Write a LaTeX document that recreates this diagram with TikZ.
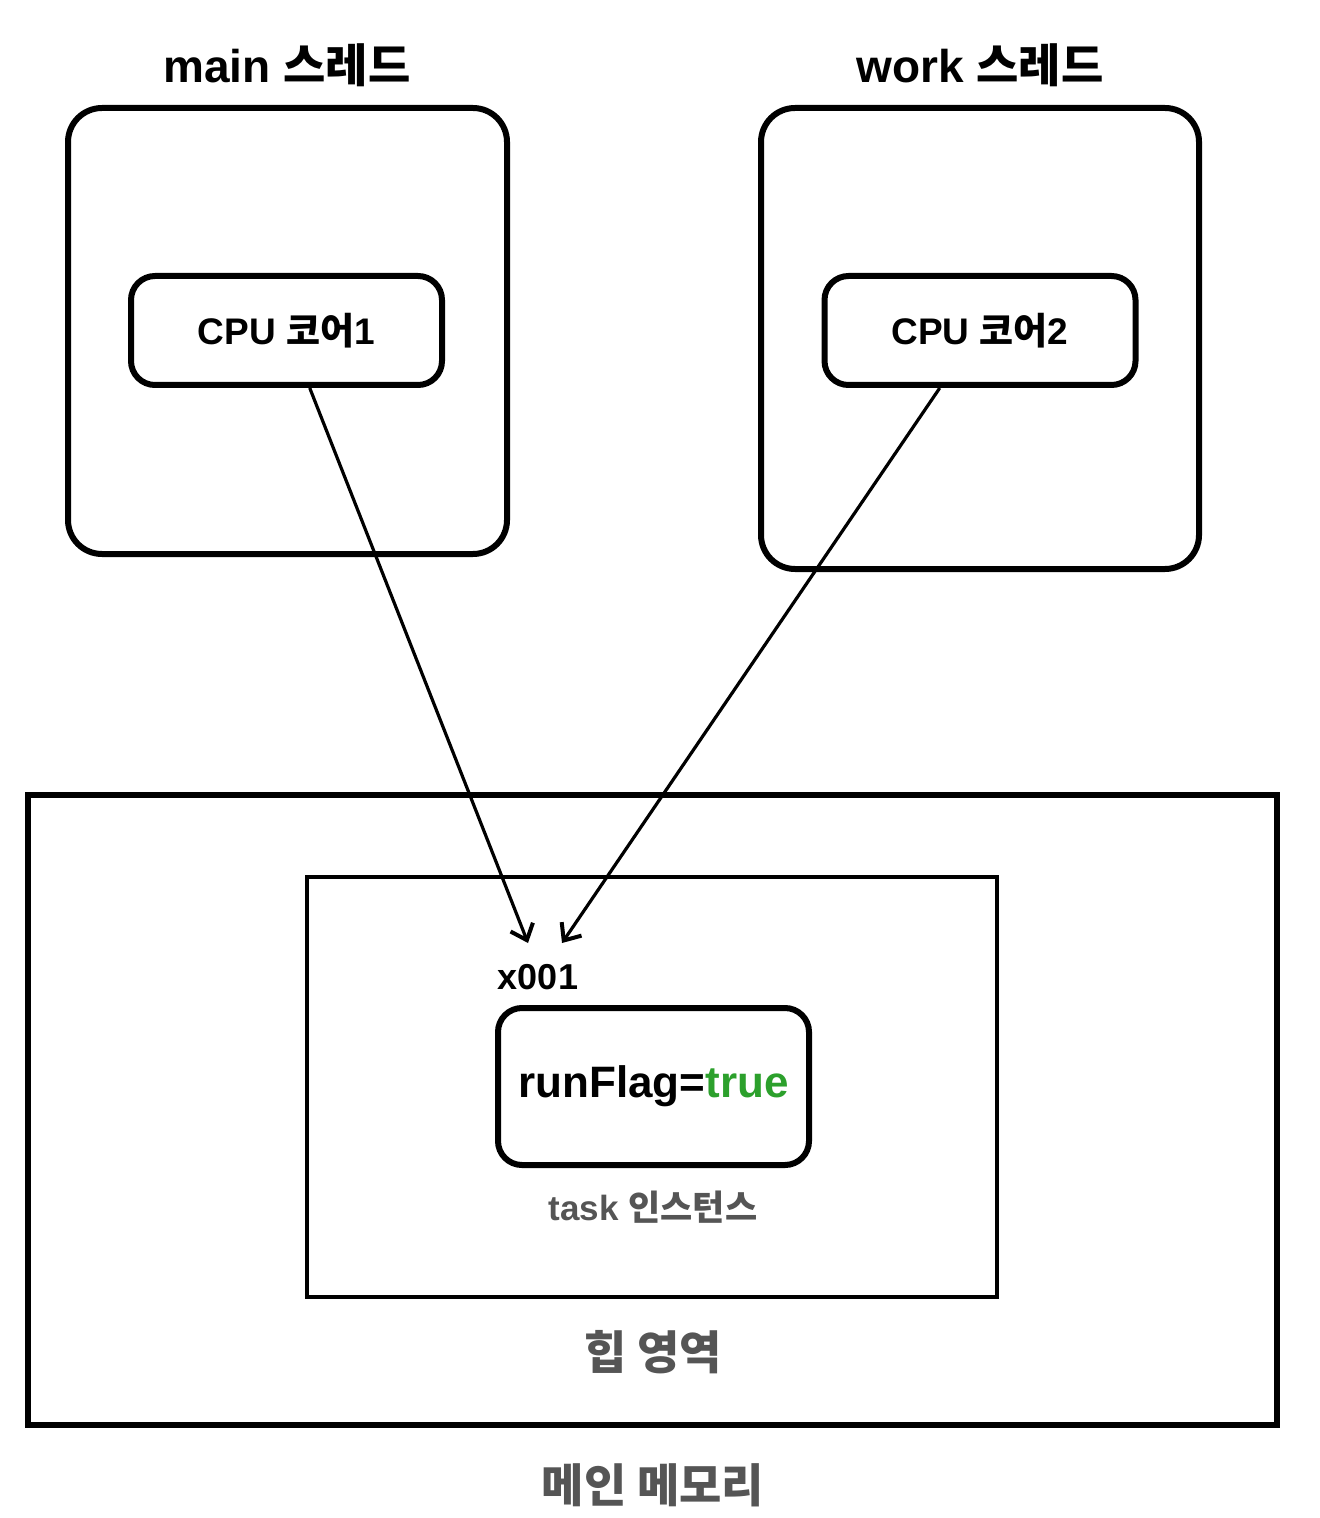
\documentclass[tikz,border=0pt]{standalone}
\usepackage{fontspec}
\setmainfont{Liberation Sans}
\newfontfamily\kr{Noto Sans CJK KR}
\usepackage{tikz}
\usetikzlibrary{arrows.meta}
\definecolor{flaggreen}{RGB}{44,160,44}
\definecolor{notegray}{RGB}{85,85,85}

\begin{document}
\begin{tikzpicture}[x=0.5pt, y=-0.5pt,
  thread/.style={draw, line width=3pt, rounded corners=17pt, inner sep=0pt},
  core/.style={draw, line width=3pt, rounded corners=12pt, inner sep=0pt,
    minimum width=155.5pt, minimum height=54.5pt, font=\fontsize{18.5}{20}\selectfont\bfseries},
  title/.style={font=\fontsize{23}{25}\selectfont\bfseries},
  note/.style={text=notegray, font=\fontsize{17.5}{19}\selectfont\bfseries},
  ref/.style={line width=1.6pt, -{Straight Barb[length=7pt, width=12pt, line width=2pt]}}]
\useasboundingbox (0,0) rectangle (1320,1518);

% threads
\node[thread, minimum width=219.5pt, minimum height=223pt] (mainthr) at (287.5,331) {};
\node[thread, minimum width=219pt, minimum height=230.5pt] (workthr) at (980,338.5) {};
\node[title] (maintitle) at (287,65) {main {\kr 스레드}};
\node[title] (worktitle) at (980,65) {work {\kr 스레드}};
\node[core] (cpu1) at (286.5,330.5) {CPU {\kr 코어}1};
\node[core] (cpu2) at (980,330.5) {CPU {\kr 코어}2};

% memory
\node[draw, line width=3pt, inner sep=0pt, minimum width=624.5pt, minimum height=315pt] (mem) at (652.5,1110) {};
\node[draw, line width=2pt, inner sep=0pt, minimum width=345pt, minimum height=210pt] (heap) at (652,1087) {};
\node[font=\fontsize{18}{20}\selectfont\bfseries] (addr) at (538,977) {x001};
\node[core, minimum height=78.5pt, font=\fontsize{22}{24}\selectfont\bfseries] (flag) at (653.5,1086.5)
  {runFlag=\textcolor{flaggreen}{true}};
\node[note] (tasklbl) at (653,1207) {task {\kr 인스턴스}};
\node[title, text=notegray] (heaplbl) at (653,1352) {\kr 힙 영역};
\node[title, text=notegray] (memlbl) at (653,1485) {\kr 메인 메모리};

\coordinate (in1) at (528,943);
\coordinate (in2) at (562,943);
\draw[ref] (cpu1.-68) -- (in1);
\draw[ref] (cpu2.-125) -- (in2);
\end{tikzpicture}
\end{document}
